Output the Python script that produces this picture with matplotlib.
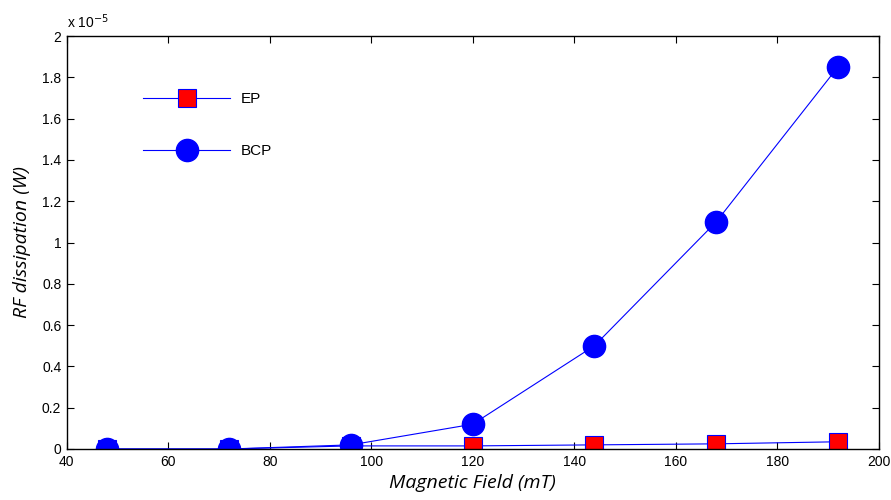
import matplotlib
matplotlib.use("Agg")
import matplotlib.pyplot as plt

# magnetic field (mT) and RF dissipation (W)
field = [48, 72, 96, 120, 144, 168, 192]
ep_power = [0.0, 0.0, 0.015e-5, 0.015e-5, 0.02e-5, 0.025e-5, 0.035e-5]
bcp_power = [0.0, 0.0, 0.02e-5, 0.12e-5, 0.5e-5, 1.1e-5, 1.85e-5]
series_labels = ["EP", "BCP"]

scale = 1e-5
xticks = list(range(40, 201, 20))
yticks = [0, 0.2, 0.4, 0.6, 0.8, 1.0, 1.2, 1.4, 1.6, 1.8, 2.0]
ytick_labels = ["0", "0.2", "0.4", "0.6", "0.8", "1", "1.2", "1.4", "1.6", "1.8", "2"]

plt.rcParams['font.family'] = ['Liberation Sans', 'DejaVu Sans']

fig = plt.figure(figsize=(8.91, 5.0), dpi=100)
ax = fig.add_axes([0.075, 0.102, 0.911, 0.826])

ax.plot(field, [v / scale for v in ep_power], color='blue', lw=0.8,
        marker='s', markersize=13, markerfacecolor='red',
        markeredgecolor='blue', markeredgewidth=0.8, label=series_labels[0])
ax.plot(field, [v / scale for v in bcp_power], color='blue', lw=0.8,
        marker='o', markersize=16, markerfacecolor='blue',
        markeredgecolor='blue', label=series_labels[1])

ax.set_xlim(40, 200)
ax.set_ylim(0, 2)
ax.set_xticks(xticks)
ax.set_yticks(yticks)
ax.set_yticklabels(ytick_labels)
ax.tick_params(direction='in', top=True, right=True, length=5, labelsize=10, pad=4)
for s in ax.spines.values():
    s.set_linewidth(1.0)

ax.text(0.0, 1.012, r"x 10$^{-5}$", transform=ax.transAxes, fontsize=10,
        ha='left', va='bottom')

ax.set_xlabel("Magnetic Field (mT)", fontsize=14, style='italic',
              family=['Open Sans', 'DejaVu Sans'], labelpad=4)
ax.set_ylabel("RF dissipation (W)", fontsize=14, style='italic',
              family=['Open Sans', 'DejaVu Sans'], labelpad=8)

ax.legend(loc='upper left', bbox_to_anchor=(0.077, 0.897), frameon=False,
          handlelength=5.7, labelspacing=2.5, fontsize=11, handletextpad=0.7)

fig.savefig("out.png", dpi=100)
